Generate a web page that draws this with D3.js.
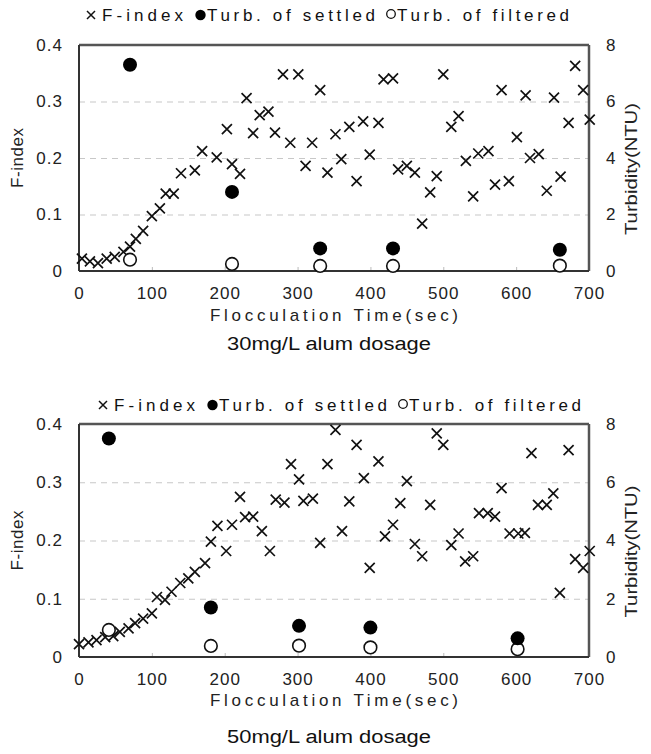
<!DOCTYPE html>
<html>
<head>
<meta charset="utf-8">
<script src="https://cdn.jsdelivr.net/npm/d3@7"></script>
<style>
  body { margin: 0; background: #fff; }
  svg { display: block; font-family: "Liberation Sans", Arial, sans-serif; }
</style>
</head>
<body>
<div id="chart"></div>
<script>
// ---- data ----
// 30 mg/L alum dosage
const time30 = [4, 15, 26, 38, 49, 61, 70, 78, 88, 100, 111, 119, 130, 140, 159, 169, 189, 203, 210, 221,
  230, 239, 248, 260, 269, 280, 290, 301, 311, 320, 331, 341, 352, 360, 371, 381, 390, 399, 411, 418,
  431, 438, 450, 461, 471, 482, 491, 500, 511, 521, 531, 541, 548, 562, 571, 580, 590, 601, 613, 619,
  631, 642, 652, 661, 672, 681, 692, 701];
const fIndex30 = [0.022, 0.017, 0.014, 0.022, 0.025, 0.034, 0.043, 0.057, 0.071, 0.097, 0.111, 0.137, 0.137, 0.173, 0.178, 0.212, 0.201, 0.251, 0.189, 0.172,
  0.306, 0.244, 0.276, 0.282, 0.245, 0.348, 0.227, 0.348, 0.186, 0.227, 0.320, 0.174, 0.242, 0.198, 0.255, 0.159, 0.265, 0.206, 0.262, 0.339,
  0.341, 0.180, 0.186, 0.174, 0.084, 0.139, 0.168, 0.348, 0.255, 0.274, 0.195, 0.132, 0.208, 0.212, 0.153, 0.320, 0.159, 0.237, 0.311, 0.200,
  0.207, 0.142, 0.307, 0.167, 0.262, 0.363, 0.320, 0.268];
const turbTime30 = [70, 210, 331, 431, 660];
const settled30 = [7.3, 2.8, 0.8, 0.8, 0.75];
const filtered30 = [0.4, 0.25, 0.18, 0.18, 0.19];

// 50 mg/L alum dosage
const time50 = [0, 13, 24, 36, 47, 56, 68, 77, 88, 100, 107, 118, 127, 139, 150, 159, 173, 181, 190, 202,
  210, 221, 228, 239, 251, 262, 270, 282, 291, 302, 308, 321, 331, 341, 352, 361, 371, 381, 391, 399,
  411, 420, 431, 441, 450, 461, 471, 482, 491, 500, 511, 521, 530, 541, 549, 561, 571, 580, 591, 603,
  612, 621, 630, 642, 651, 660, 672, 681, 692, 701];
const fIndex50 = [0.022, 0.025, 0.029, 0.034, 0.036, 0.043, 0.049, 0.058, 0.066, 0.075, 0.103, 0.098, 0.112, 0.127, 0.135, 0.146, 0.161, 0.198, 0.225, 0.182,
  0.227, 0.275, 0.240, 0.241, 0.216, 0.182, 0.270, 0.265, 0.331, 0.305, 0.268, 0.272, 0.196, 0.331, 0.390, 0.216, 0.267, 0.364, 0.307, 0.153,
  0.336, 0.207, 0.227, 0.264, 0.302, 0.194, 0.173, 0.261, 0.384, 0.364, 0.192, 0.212, 0.164, 0.173, 0.247, 0.247, 0.241, 0.290, 0.212, 0.212,
  0.213, 0.350, 0.261, 0.261, 0.281, 0.110, 0.355, 0.168, 0.153, 0.182];
const turbTime50 = [41, 181, 302, 400, 602];
const settled50 = [7.5, 1.7, 1.07, 1.01, 0.64];
const filtered50 = [0.93, 0.38, 0.39, 0.33, 0.27];

const xTicks = [0, 100, 200, 300, 400, 500, 600, 700];
const fTicks = [0, 0.1, 0.2, 0.3, 0.4];
const turbTicks = [0, 2, 4, 6, 8];
const gridTicks = [0.1, 0.2, 0.3];
const legendLabels = ['F-index', 'Turb. of settled', 'Turb. of filtered'];
const xTitle = 'Flocculation Time(sec)';
const yTitle = 'F-index';
const y2Title = 'Turbidity(NTU)';
const panelTitles = ['30mg/L alum dosage', '50mg/L alum dosage'];

const crossPath = 'M-5,-5L5,5M-5,5L5,-5';

class DosagePanel {

  constructor(_config, _data) {
    this.config = {
      parentElement: _config.parentElement,
      top: _config.top,
      plotHeight: _config.plotHeight,
      legendY: _config.legendY,
      legendShift: _config.legendShift || 0,
      title: _config.title,
      titleGap: _config.titleGap,
      subtitleGap: _config.subtitleGap,
      margin: { left: 79, right: 62 }
    }
    this.data = _data;
    this.initVis();
  }

  initVis() {
    let vis = this;
    vis.width = 651 - vis.config.margin.left - vis.config.margin.right;
    vis.height = vis.config.plotHeight;

    vis.chart = vis.config.parentElement.append('g')
      .attr('transform', `translate(${vis.config.margin.left}, ${vis.config.top})`);

    vis.xScale = d3.scaleLinear().domain([0, 700]).range([0, vis.width]);
    vis.yScale = d3.scaleLinear().domain([0, 0.4]).range([vis.height, 0]);
    vis.turbScale = d3.scaleLinear().domain([0, 8]).range([vis.height, 0]);

    // dashed gridlines
    vis.chart.append('g')
      .attr('class', 'grid')
      .call(d3.axisLeft(vis.yScale).tickValues(gridTicks).tickSize(-vis.width).tickFormat(''))
      .call(g => g.select('.domain').remove())
      .selectAll('line')
      .attr('stroke', '#c8c8c8')
      .attr('stroke-width', 1.2)
      .attr('stroke-dasharray', '6,5');

    // x axis with small inward ticks
    vis.xAxisGroup = vis.chart.append('g')
      .attr('transform', `translate(0, ${vis.height})`)
      .call(d3.axisBottom(vis.xScale).tickValues(xTicks).tickSizeInner(-4).tickSizeOuter(0).tickPadding(16));
    vis.xAxisGroup.select('.domain').remove();
    vis.xAxisGroup.selectAll('line').attr('stroke', '#bbb');
    vis.xAxisGroup.selectAll('text')
      .attr('font-size', 17).attr('font-family', '"Liberation Sans", Arial, sans-serif')
      .attr('letter-spacing', 1).attr('fill', '#222');

    vis.yAxisGroup = vis.chart.append('g')
      .call(d3.axisLeft(vis.yScale).tickValues(fTicks).tickSize(0).tickPadding(16)
        .tickFormat(d => d === 0 ? '0' : d3.format('.1f')(d)));
    vis.yAxisGroup.select('.domain').remove();
    vis.yAxisGroup.selectAll('text')
      .attr('font-size', 17).attr('font-family', '"Liberation Sans", Arial, sans-serif')
      .attr('letter-spacing', 1).attr('fill', '#222');

    vis.y2AxisGroup = vis.chart.append('g')
      .attr('transform', `translate(${vis.width}, 0)`)
      .call(d3.axisRight(vis.turbScale).tickValues(turbTicks).tickSize(0).tickPadding(17));
    vis.y2AxisGroup.select('.domain').remove();
    vis.y2AxisGroup.selectAll('text')
      .attr('font-size', 17).attr('font-family', '"Liberation Sans", Arial, sans-serif')
      .attr('fill', '#222');

    // frame
    vis.chart.append('line').attr('x1', 0).attr('x2', vis.width).attr('y1', 0).attr('y2', 0)
      .attr('stroke', '#555').attr('stroke-width', 2.5);
    vis.chart.append('line').attr('x1', vis.width).attr('x2', vis.width).attr('y1', 0).attr('y2', vis.height)
      .attr('stroke', '#555').attr('stroke-width', 2.5);
    vis.chart.append('line').attr('x1', 0).attr('x2', 0).attr('y1', 0).attr('y2', vis.height)
      .attr('stroke', '#333').attr('stroke-width', 2);
    vis.chart.append('line').attr('x1', 0).attr('x2', vis.width).attr('y1', vis.height).attr('y2', vis.height)
      .attr('stroke', '#333').attr('stroke-width', 2);

    vis.renderVis();
    vis.renderLabels();
  }

  renderVis() {
    let vis = this;
    const d = vis.data;

    vis.chart.selectAll('.fidx')
      .data(d.time.map((t, i) => ({ t: t, v: d.fIndex[i] })))
      .join('path')
      .attr('class', 'fidx')
      .attr('transform', p => `translate(${vis.xScale(p.t)}, ${vis.yScale(p.v)})`)
      .attr('d', crossPath)
      .attr('fill', 'none')
      .attr('stroke', '#111')
      .attr('stroke-width', 1.7);

    vis.chart.selectAll('.filtered')
      .data(d.turbTime.map((t, i) => ({ t: t, v: d.filtered[i] })))
      .join('circle')
      .attr('class', 'filtered')
      .attr('cx', p => vis.xScale(p.t))
      .attr('cy', p => vis.turbScale(p.v))
      .attr('r', 6.3)
      .attr('fill', '#fff')
      .attr('stroke', '#111')
      .attr('stroke-width', 1.6);

    vis.chart.selectAll('.settled')
      .data(d.turbTime.map((t, i) => ({ t: t, v: d.settled[i] })))
      .join('circle')
      .attr('class', 'settled')
      .attr('cx', p => vis.xScale(p.t))
      .attr('cy', p => vis.turbScale(p.v))
      .attr('r', 7)
      .attr('fill', '#000');
  }

  renderLabels() {
    let vis = this;
    const svg = vis.config.parentElement;
    const top = vis.config.top;
    const sh = vis.config.legendShift;
    const ly = vis.config.legendY;

    // legend
    const legend = svg.append('g').attr('transform', `translate(${sh}, ${ly})`);
    legend.append('path').attr('d', 'M-4,-4L4,4M-4,4L4,-4')
      .attr('transform', 'translate(91, 0)').attr('stroke', '#111').attr('stroke-width', 1.5);
    legend.append('circle').attr('cx', 200.5).attr('cy', 0).attr('r', 5.2).attr('fill', '#000');
    legend.append('circle').attr('cx', 391).attr('cy', -1).attr('r', 4.3)
      .attr('fill', '#fff').attr('stroke', '#111').attr('stroke-width', 1.3);
    const legendPos = [[102, 81], [207, 168], [397, 172]];
    legend.selectAll('.ltext')
      .data(legendLabels)
      .join('text')
      .attr('class', 'ltext')
      .attr('x', (t, i) => legendPos[i][0])
      .attr('y', 6)
      .attr('textLength', (t, i) => legendPos[i][1])
      .attr('lengthAdjust', 'spacing')
      .attr('font-size', 17)
      .attr('fill', '#111')
      .text(t => t);

    const cx = vis.config.margin.left + vis.width / 2;
    svg.append('text')
      .attr('x', cx).attr('y', top + vis.height + vis.config.titleGap)
      .attr('text-anchor', 'middle')
      .attr('textLength', 248).attr('lengthAdjust', 'spacing')
      .attr('font-size', 17).attr('fill', '#222')
      .text(xTitle);

    svg.append('text')
      .attr('x', 329).attr('y', top + vis.height + vis.config.subtitleGap)
      .attr('text-anchor', 'middle')
      .attr('textLength', 204).attr('lengthAdjust', 'spacingAndGlyphs')
      .attr('font-size', 18).attr('fill', '#111')
      .text(vis.config.title);

    svg.append('text')
      .attr('transform', `translate(23, ${top + vis.height / 2}) rotate(-90)`)
      .attr('text-anchor', 'middle')
      .attr('textLength', 60).attr('lengthAdjust', 'spacing')
      .attr('font-size', 17).attr('fill', '#222')
      .text(yTitle);

    svg.append('text')
      .attr('transform', `translate(637, ${top + vis.height / 2 + 11}) rotate(-90)`)
      .attr('text-anchor', 'middle')
      .attr('textLength', 132).attr('lengthAdjust', 'spacingAndGlyphs')
      .attr('font-size', 17).attr('fill', '#222')
      .text(y2Title);
  }
}

const svg = d3.select('#chart').append('svg')
  .attr('width', 651)
  .attr('height', 754);

new DosagePanel({
  parentElement: svg, top: 45, plotHeight: 226, legendY: 15, legendShift: 0,
  title: panelTitles[0], titleGap: 50, subtitleGap: 79
}, { time: time30, fIndex: fIndex30, turbTime: turbTime30, settled: settled30, filtered: filtered30 });

new DosagePanel({
  parentElement: svg, top: 424, plotHeight: 233, legendY: 405, legendShift: 12,
  title: panelTitles[1], titleGap: 49, subtitleGap: 86
}, { time: time50, fIndex: fIndex50, turbTime: turbTime50, settled: settled50, filtered: filtered50 });
</script>
</body>
</html>
